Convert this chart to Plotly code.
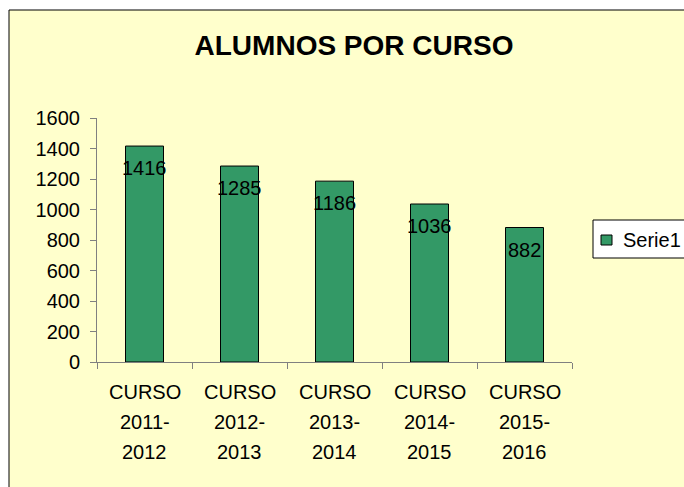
import plotly.graph_objects as go

categories = ["CURSO<br>2011-<br>2012", "CURSO<br>2012-<br>2013", "CURSO<br>2013-<br>2014",
              "CURSO<br>2014-<br>2015", "CURSO<br>2015-<br>2016"]
values = [1416, 1285, 1186, 1036, 882]
series_name = "Serie1"
title_text = "ALUMNOS POR CURSO"

FONT = "Liberation Sans, Arial"
W, H = 684, 487
L, R, T, B = 97, 112, 118, 125
pw, ph = W - L - R, H - T - B

fig = go.Figure()
fig.add_trace(go.Bar(
    x=categories, y=values, name=series_name, width=0.4,
    marker=dict(color="#339966", line=dict(color="black", width=1)),
    showlegend=False,
))

# data labels
for c, v in zip(categories, values):
    fig.add_annotation(x=c, y=v, text=str(v), showarrow=False, yanchor="middle",
                       yshift=-22, font=dict(family=FONT, size=20, color="black"))

# category labels, one line per annotation (30px line spacing)
for c in categories:
    for i, line in enumerate(c.split("<br>")):
        fig.add_annotation(x=c, xref="x", y=0, yref="paper", text=line, showarrow=False,
                           yanchor="middle", yshift=-30 * (i + 1),
                           font=dict(family=FONT, size=20, color="black"))

# chart area background with border
fig.add_shape(type="rect", xref="paper", yref="paper",
              x0=(9 - L) / pw, x1=3, y0=-3, y1=(H - B - 10) / ph,
              fillcolor="#FFFFCC", line=dict(color="black", width=1), layer="below")

# legend box
fig.add_shape(type="rect", xref="paper", yref="paper",
              x0=(593 - L) / pw, x1=(720 - L) / pw,
              y0=(H - B - 258) / ph, y1=(H - B - 220) / ph,
              fillcolor="white", line=dict(color="black", width=1), layer="above")
fig.add_shape(type="rect", xref="paper", yref="paper",
              x0=(601 - L) / pw, x1=(612 - L) / pw,
              y0=(H - B - 245) / ph, y1=(H - B - 235) / ph,
              fillcolor="#339966", line=dict(color="black", width=1), layer="above")
fig.add_annotation(xref="paper", yref="paper", x=(621 - L) / pw, y=(H - B - 240) / ph,
                   xanchor="left", yanchor="middle", text=series_name, showarrow=False,
                   font=dict(family=FONT, size=20, color="black"))

fig.update_layout(
    width=W, height=H,
    margin=dict(l=L, r=R, t=T, b=B, autoexpand=False),
    paper_bgcolor="white", plot_bgcolor="rgba(0,0,0,0)",
    font=dict(family=FONT, size=20, color="black"),
    title=dict(text="<b>" + title_text + "</b>", x=354 / W, xanchor="center",
               y=1 - 45 / H, yanchor="middle",
               font=dict(family=FONT, size=28, color="black")),
    showlegend=False,
    xaxis=dict(showline=True, linecolor="#808080", ticks="outside", tickson="boundaries",
               ticklen=6, tickcolor="#808080", showgrid=False, showticklabels=False),
    yaxis=dict(range=[0, 1600], dtick=200, showline=True, linecolor="#808080",
               ticks="outside", ticklen=6, tickcolor="#808080", showgrid=False,
               zeroline=False, ticklabelstandoff=6),
    bargap=0.6,
)

fig.write_html("out.html", config={"displayModeBar": False},
               post_script="document.body.style.margin='0';document.body.style.overflow='hidden';")
